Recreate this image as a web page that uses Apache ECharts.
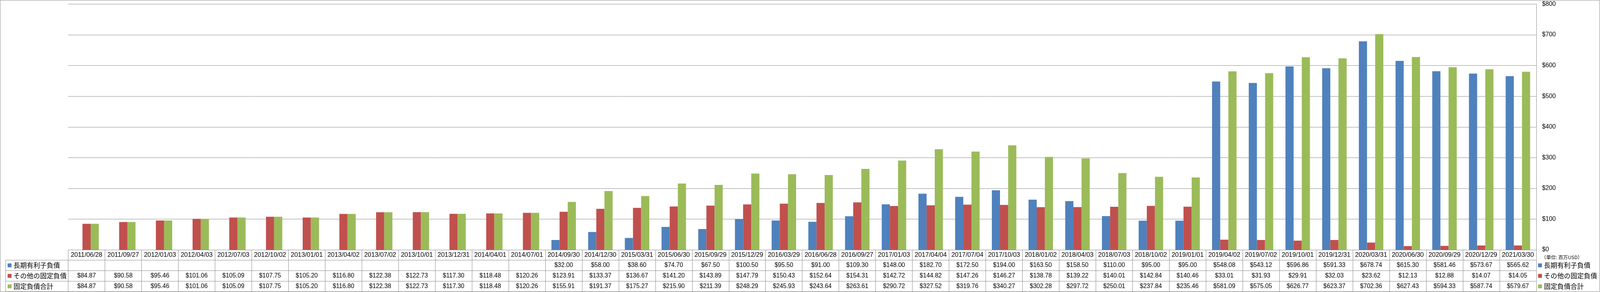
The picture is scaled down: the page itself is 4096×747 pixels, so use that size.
<!DOCTYPE html>
<html><head><meta charset="utf-8">
<script src="https://cdn.jsdelivr.net/npm/echarts@6/dist/echarts.min.js"></script>
<style>html,body{margin:0;padding:0;background:#fff}#c{width:4096px;height:747px}</style>
</head><body><div id="c"></div>
<script>
// ---- data ----
const categories = ['2011/06/28','2011/09/27','2012/01/03','2012/04/03','2012/07/03','2012/10/02','2013/01/01','2013/04/02','2013/07/02','2013/10/01','2013/12/31','2014/04/01','2014/07/01','2014/09/30','2014/12/30','2015/03/31','2015/06/30','2015/09/29','2015/12/29','2016/03/29','2016/06/28','2016/09/27','2017/01/03','2017/04/04','2017/07/04','2017/10/03','2018/01/02','2018/04/03','2018/07/03','2018/10/02','2019/01/01','2019/04/02','2019/07/02','2019/10/01','2019/12/31','2020/03/31','2020/06/30','2020/09/29','2020/12/29','2021/03/30'];
const seriesNames = ['長期有利子負債','その他の固定負債','固定負債合計'];
const longTermDebt = [null,null,null,null,null,null,null,null,null,null,null,null,null,32.00,58.00,38.60,74.70,67.50,100.50,95.50,91.00,109.30,148.00,182.70,172.50,194.00,163.50,158.50,110.00,95.00,95.00,548.08,543.12,596.86,591.33,678.74,615.30,581.46,573.67,565.62];
const otherFixed = [84.87,90.58,95.46,101.06,105.09,107.75,105.20,116.80,122.38,122.73,117.30,118.48,120.26,123.91,133.37,136.67,141.20,143.89,147.79,150.43,152.64,154.31,142.72,144.82,147.26,146.27,138.78,139.22,140.01,142.84,140.46,33.01,31.93,29.91,32.03,23.62,12.13,12.88,14.07,14.05];
const totalFixed = [84.87,90.58,95.46,101.06,105.09,107.75,105.20,116.80,122.38,122.73,117.30,118.48,120.26,155.91,191.37,175.27,215.90,211.39,248.29,245.93,243.64,263.61,290.72,327.52,319.76,340.27,302.28,297.72,250.01,237.84,235.46,581.09,575.05,626.77,623.37,702.36,627.43,594.33,587.74,579.67];
const yMin = 0, yMax = 800, yInterval = 100;
const unitLabel = '（単位: 百万USD）';

// ---- style / layout ----
const colors = ['#4F81BD','#C0504D','#9BBB59'];
const lineColor = '#8A8A8A';
const numFont = 'Liberation Sans';
const cjkFont = 'Noto Sans CJK JP';
const W = 4096, H = 747;
const gridLeft = 174.6, gridRight = 163.2, gridTop = 10.5, gridBottom = 107.9;
const plotBottomY = H - gridBottom;
const rowBounds = [0, 26.5, 53.0, 80.2, 106.7]; // offsets below plot bottom
const colLeft = 14.4;

const seriesData = [longTermDebt, otherFixed, totalFixed];
const fmt = v => (v === null || v === undefined) ? '' : '$' + v.toFixed(2);

const xAxes = [];
xAxes.push({
  type: 'category', gridIndex: 0, position: 'bottom', data: categories,
  axisLine: { show: true, onZero: false, lineStyle: { color: lineColor, width: 1 } },
  axisTick: { show: true, interval: 0, length: rowBounds[4], lineStyle: { color: lineColor, width: 1 } },
  axisLabel: { interval: 0, color: '#000', fontSize: 16.4, fontFamily: numFont,
    margin: (rowBounds[1] - rowBounds[0]) / 2, verticalAlign: 'middle' },
  splitLine: { show: false }
});
for (let r = 0; r < 3; r++) {
  const vals = seriesData[r];
  xAxes.push({
    type: 'category', gridIndex: 0, position: 'bottom', data: categories,
    offset: rowBounds[r + 1],
    axisLine: { show: true, onZero: false, lineStyle: { color: lineColor, width: 1 } },
    axisTick: { show: false },
    axisLabel: { interval: 0, color: '#000', fontSize: 15.6, fontFamily: numFont,
      margin: (rowBounds[r + 2] - rowBounds[r + 1]) / 2, verticalAlign: 'middle',
      formatter: (v, i) => fmt(vals[i]) },
    splitLine: { show: false }
  });
}
xAxes.push({
  type: 'category', gridIndex: 0, position: 'bottom', data: categories,
  offset: rowBounds[4],
  axisLine: { show: true, onZero: false, lineStyle: { color: lineColor, width: 1 } },
  axisTick: { show: false }, axisLabel: { show: false }, splitLine: { show: false }
});

const rowCenters = [1, 2, 3].map(r => plotBottomY + (rowBounds[r] + rowBounds[r + 1]) / 2);
const legendItemH = 20;
const legendGap = (rowCenters[2] - rowCenters[0]) / 2 - legendItemH;
const legendBase = {
  orient: 'vertical', top: rowCenters[0] - legendItemH / 2, padding: 0,
  itemGap: legendGap, itemWidth: 10, itemHeight: 10, icon: 'rect',
  textStyle: { fontFamily: cjkFont, fontSize: 17, color: '#000', lineHeight: legendItemH },
  data: seriesNames, selectedMode: false
};

const graphics = [];
for (let r = 1; r <= 4; r++) {
  const y = plotBottomY + rowBounds[r];
  graphics.push({ type: 'line', shape: { x1: colLeft, y1: y, x2: gridLeft, y2: y }, style: { stroke: lineColor, lineWidth: 1 } });
}
graphics.push({ type: 'line', shape: { x1: colLeft, y1: plotBottomY + rowBounds[1], x2: colLeft, y2: plotBottomY + rowBounds[4] }, style: { stroke: lineColor, lineWidth: 1 } });
graphics.push({ type: 'rect', shape: { x: 0.5, y: 0.5, width: W - 1.5, height: H - 1.5 }, style: { fill: 'none', stroke: lineColor, lineWidth: 1 } });
graphics.push({ type: 'text', x: W - gridRight + 13, y: plotBottomY + 19.5,
  style: { text: unitLabel, fontFamily: cjkFont, fontSize: 12.4, fill: '#000', verticalAlign: 'middle', align: 'left' } });

const option = {
  animation: false,
  backgroundColor: '#fff',
  grid: { left: gridLeft, right: gridRight, top: gridTop, bottom: gridBottom },
  legend: [
    Object.assign({}, legendBase, { left: 19.5 }),
    Object.assign({}, legendBase, { left: W - gridRight + 4.6 })
  ],
  xAxis: xAxes,
  yAxis: {
    type: 'value', position: 'right', min: yMin, max: yMax, interval: yInterval,
    axisLine: { show: true, lineStyle: { color: lineColor, width: 1 } },
    axisTick: { show: false },
    splitLine: { show: true, lineStyle: { color: lineColor, width: 1 } },
    axisLabel: { formatter: v => '$' + v, color: '#000', fontSize: 15.7, fontFamily: numFont, margin: 15 }
  },
  series: seriesNames.map((n, i) => ({
    name: n, type: 'bar', xAxisIndex: 0, yAxisIndex: 0, data: seriesData[i],
    itemStyle: { color: colors[i] }, barGap: '0%', barCategoryGap: '33.3%'
  })),
  graphic: graphics
};
const chart = echarts.init(document.getElementById('c'), null, { renderer: 'canvas' });
chart.setOption(option);
</script></body></html>
